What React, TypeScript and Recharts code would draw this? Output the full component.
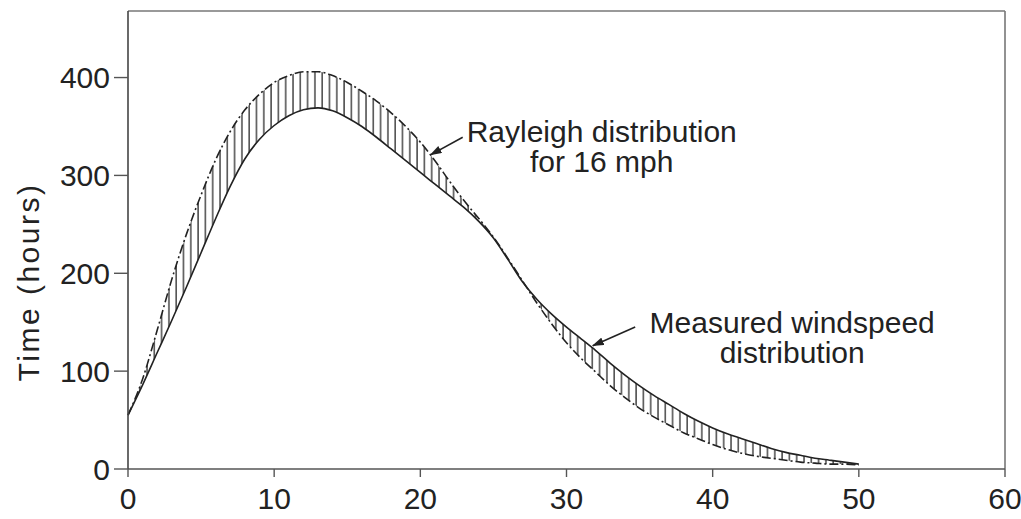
import {
  ComposedChart,
  Area,
  Line,
  XAxis,
  YAxis,
  ReferenceLine,
  ReferenceDot,
  Label,
} from "recharts";

// wind speed (mph)
const speeds = [
  0, 1, 2, 3, 4, 5, 6, 7, 8, 9, 10, 11, 12, 13, 14, 15, 16, 17, 18, 19, 20, 21, 22, 23, 24, 25,
  26, 27, 28, 29, 30, 31, 32, 33, 34, 35, 36, 37, 38, 39, 40, 41, 42, 43, 44, 45, 46, 47, 48, 49, 50,
];

// hours, Rayleigh distribution for 16 mph
const rayleigh = [
  55, 92, 142, 194, 240, 280, 316, 345, 367, 383, 395, 402, 406, 406, 402, 395, 386, 376, 364, 350, 334,
  315, 294, 274, 256, 237, 215, 192, 169, 148, 129, 113, 99, 85, 73, 62, 53, 45, 37, 31, 25, 20, 16, 13,
  11, 9, 7, 6, 5, 5, 4,
];

// hours, measured windspeed distribution
const measured = [
  55, 86, 119, 152, 186, 221, 256, 289, 317, 337, 351, 361, 367, 369, 366, 359, 350, 339, 327, 315, 303,
  291, 279, 267, 253, 236, 214, 191, 173, 158, 145, 133, 121, 108, 96, 85, 75, 66, 57, 49, 42, 36, 31, 26,
  21, 17, 14, 11, 9, 7, 5,
];

const xTicks = [0, 10, 20, 30, 40, 50, 60];
const yTicks = [0, 100, 200, 300, 400];

const data = speeds.map((s, i) => ({
  speed: s,
  rayleigh: rayleigh[i],
  measured: measured[i],
  band: [Math.min(rayleigh[i], measured[i]), Math.max(rayleigh[i], measured[i])],
}));

const FONT = "'Liberation Sans', Arial, Helvetica, sans-serif";
const INK = "#222";

function arrowShape(p: any) {
  return (
    <line
      x1={p.x1}
      y1={p.y1}
      x2={p.x2}
      y2={p.y2}
      stroke={INK}
      strokeWidth={1.6}
      markerEnd="url(#arrowhead)"
    />
  );
}

function noteContent(lines: string[], dx: number, dy: number) {
  return (props: any) => {
    const vb = props.viewBox || {};
    const cx = vb.x + (vb.width || 0) / 2 + dx;
    const cy = vb.y + (vb.height || 0) / 2 + dy;
    return (
      <text x={cx} y={cy} textAnchor="middle" fontFamily={FONT} fontSize={30} fill={INK}>
        {lines.map((t, i) => (
          <tspan key={i} x={cx} dy={i === 0 ? 0 : 30}>
            {t}
          </tspan>
        ))}
      </text>
    );
  };
}

function yTitle(props: any) {
  const vb = props.viewBox || {};
  const x = vb.x + 28;
  const y = vb.y + vb.height / 2 + 42;
  return (
    <text
      x={x}
      y={y}
      transform={`rotate(-90, ${x}, ${y})`}
      textAnchor="middle"
      dominantBaseline="central"
      fontFamily={FONT}
      fontSize={30}
      letterSpacing={2.5}
      fill={INK}
    >
      Time (hours)
    </text>
  );
}

export default function App() {
  return (
    <div style={{ position: "fixed", left: 0, top: 0, width: 1021, height: 519, background: "#fff" }}>
      <ComposedChart
        width={1021}
        height={519}
        data={data}
        margin={{ top: 11, right: 16, bottom: 0, left: 0 }}
      >
        <defs>
          <pattern id="hatch" patternUnits="userSpaceOnUse" width={7.3} height={10}>
            <line x1={1} y1={0} x2={1} y2={10} stroke="#2a2a2a" strokeWidth={1.3} />
          </pattern>
          <marker
            id="arrowhead"
            markerUnits="userSpaceOnUse"
            markerWidth={12}
            markerHeight={8}
            refX={11}
            refY={4}
            orient="auto"
          >
            <path d="M0,0 L12,4 L0,8 z" fill={INK} />
          </marker>
        </defs>
        <XAxis
          dataKey="speed"
          type="number"
          domain={[0, 60]}
          ticks={xTicks}
          height={50}
          tickSize={8}
          tickMargin={11}
          stroke="#555"
          axisLine={{ stroke: "#555", strokeWidth: 1.6 }}
          tickLine={{ stroke: "#555", strokeWidth: 1.4 }}
          tick={{ fill: INK, fontSize: 30, fontFamily: FONT }}
          interval={0}
        />
        <YAxis
          type="number"
          domain={[0, 468]}
          ticks={yTicks}
          width={128}
          tickSize={14}
          tickMargin={4}
          stroke="#555"
          axisLine={{ stroke: "#444", strokeWidth: 1.6 }}
          tickLine={{ stroke: "#555", strokeWidth: 1.4 }}
          tick={{ fill: INK, fontSize: 30, fontFamily: FONT }}
          interval={0}
          label={<Label content={yTitle} />}
        />
        <ReferenceLine y={468} stroke="#777" strokeWidth={1.6} />
        <ReferenceLine x={60} stroke="#777" strokeWidth={1.6} />
        <Area
          type="monotone"
          dataKey="band"
          stroke="none"
          fill="url(#hatch)"
          fillOpacity={1}
          isAnimationActive={false}
          activeDot={false}
        />
        <Line
          type="monotone"
          dataKey="measured"
          stroke={INK}
          strokeWidth={1.6}
          dot={false}
          activeDot={false}
          isAnimationActive={false}
        />
        <Line
          type="monotone"
          dataKey="rayleigh"
          stroke={INK}
          strokeWidth={1.6}
          strokeDasharray="9 3 2 3"
          dot={false}
          activeDot={false}
          isAnimationActive={false}
        />
        <ReferenceLine
          segment={[
            { x: 22.9, y: 339 },
            { x: 20.7, y: 321 },
          ]}
          shape={arrowShape}
        />
        <ReferenceLine
          segment={[
            { x: 34.7, y: 145 },
            { x: 31.8, y: 126 },
          ]}
          shape={arrowShape}
        />
        <ReferenceDot
          x={22.9}
          y={339}
          r={0}
          fill="none"
          stroke="none"
          label={<Label content={noteContent(["Rayleigh distribution", "for 16 mph"], 139, 5)} />}
        />
        <ReferenceDot
          x={34.7}
          y={145}
          r={0}
          fill="none"
          stroke="none"
          label={<Label content={noteContent(["Measured windspeed", "distribution"], 157, 6)} />}
        />
      </ComposedChart>
    </div>
  );
}
